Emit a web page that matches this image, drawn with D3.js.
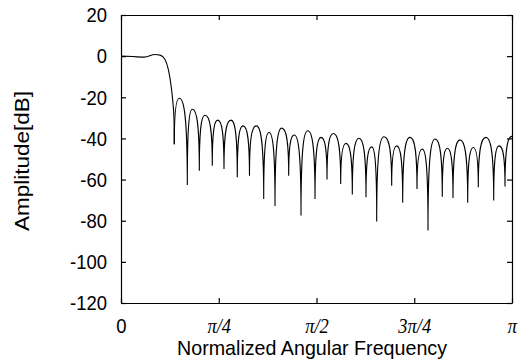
<!DOCTYPE html>
<html lang="en">
<head>
<meta charset="UTF-8">
<title>Amplitude response</title>
<script src="https://d3js.org/d3.v7.min.js"></script>
<style>
  body { margin: 0; background: #fff; }
  svg { display: block; font-family: "Liberation Sans", Arial, Helvetica, sans-serif; }
  .axis path, .axis line { stroke: #000; stroke-width: 1.2; }
  .axis text { font-size: 21px; fill: #000; }
  .curve { fill: none; stroke: #000; stroke-width: 1.1; }
  .title { font-size: 21px; fill: #000; }
</style>
</head>
<body>
<svg width="527" height="360"></svg>
<script>
// frequency in units of pi (0..1), amplitude in dB
const yTicks = [20, 0, -20, -40, -60, -80, -100, -120];
const xTicks = [0, 0.25, 0.5, 0.75, 1];
const xTickLabels = ["0", "π/4", "π/2", "3π/4", "π"];

// passband + transition band, up to the first null
const mainFreq = [0, 0.03, 0.06, 0.087, 0.1, 0.1125, 0.121, 0.127, 0.132, 0.1356];
const mainDb   = [0, -0.2, -0.5, 0.8, 0.5, -1.6, -6.4, -12.9, -21, -30.7];

// stopband nulls
const nullFreq = [0.1363, 0.1696, 0.2003, 0.2335, 0.2634, 0.2974, 0.3286, 0.3650, 0.3939,
                  0.4289, 0.4604, 0.4962, 0.5269, 0.5619, 0.5916, 0.6266, 0.6540, 0.6923,
                  0.7205, 0.7570, 0.7852, 0.8217, 0.8491, 0.8867, 0.9138, 0.9532, 0.9821];
const nullDb   = [-42.8, -62.6, -55.7, -53.3, -54.9, -58.9, -58.1, -69.4, -72.9,
                  -58.1, -77.5, -69.4, -60.0, -62.1, -67.3, -68.6, -80.4, -63.0,
                  -71.3, -64.6, -84.7, -68.3, -68.9, -71.3, -63.7, -70.2, -63.4];

// sidelobe peaks (one after each null)
const peakFreq = [0.1491, 0.1824, 0.2148, 0.2473, 0.2813, 0.3120, 0.3460, 0.3785, 0.4110,
                  0.4432, 0.4775, 0.5115, 0.5430, 0.5754, 0.6087, 0.6412, 0.6726, 0.7051,
                  0.7391, 0.7706, 0.8031, 0.8345, 0.8670, 0.9010, 0.9335, 0.9668, 1.0];
const peakDb   = [-20.5, -25.8, -28.7, -31.1, -31.1, -33.9, -33.9, -37.1, -35.0,
                  -38.3, -36.3, -39.5, -37.6, -42.4, -39.9, -44.1, -39.2, -43.6,
                  -39.5, -45.2, -40.3, -44.8, -40.7, -44.4, -39.5, -43.6, -39.0];

const margin = {top: 15, right: 15, bottom: 57, left: 121},
      width = 527 - margin.left - margin.right,
      height = 360 - margin.top - margin.bottom;

const svg = d3.select("svg")
  .append("g")
  .attr("transform", `translate(${margin.left},${margin.top})`);

const x = d3.scaleLinear().domain([0, 1]).range([0, width]);
const y = d3.scaleLinear().domain([-120, 20]).range([height, 0]);

const sx = 0.88; // the scanned lettering is narrow

// left axis with labels
svg.append("g")
  .attr("class", "axis")
  .call(d3.axisLeft(y).tickValues(yTicks).tickSizeInner(-5).tickSizeOuter(0)
    .tickPadding(14).tickFormat(d => String(d)))
  .selectAll("text")
  .attr("x", -14 / sx)
  .attr("transform", `scale(${sx},1)`);

// right axis, ticks only
svg.append("g")
  .attr("class", "axis")
  .attr("transform", `translate(${width},0)`)
  .call(d3.axisRight(y).tickValues(yTicks).tickSizeInner(-5).tickSizeOuter(0).tickFormat(""));

// bottom axis with labels
svg.append("g")
  .attr("class", "axis")
  .attr("transform", `translate(0,${height})`)
  .call(d3.axisBottom(x).tickValues(xTicks).tickSizeInner(-5).tickSizeOuter(0)
    .tickPadding(15).tickFormat((d, i) => xTickLabels[i]))
  .selectAll("text")
  .attr("transform", `scale(${sx},1)`)
  .style("font-family", (d, i) => i === 0 ? null : "'Liberation Serif', 'Times New Roman', serif")
  .style("font-style", (d, i) => i === 0 ? "normal" : "italic");

// top axis, ticks only
svg.append("g")
  .attr("class", "axis")
  .call(d3.axisTop(x).tickValues(xTicks).tickSizeInner(-5).tickSizeOuter(0).tickFormat(""));

// main lobe
const line = d3.line()
  .x(d => x(d[0]))
  .y(d => y(d[1]))
  .curve(d3.curveMonotoneX);

const mainPts = mainFreq.map((f, i) => [f, mainDb[i]]).concat([[nullFreq[0], nullDb[0]]]);

svg.append("path")
  .attr("class", "curve")
  .attr("d", line(mainPts));

// sidelobes: arch from each null over its peak down to the next null
const p = d3.path();
nullFreq.forEach((f, i) => {
  const x0 = x(f), y0 = y(nullDb[i]);
  const xp = x(peakFreq[i]), yp = y(peakDb[i]);
  p.moveTo(x0, y0);
  p.bezierCurveTo(x0, y0 + 0.75 * (yp - y0), x0 + 0.35 * (xp - x0), yp, xp, yp);
  if (i + 1 < nullFreq.length) {
    const x1 = x(nullFreq[i + 1]), y1 = y(nullDb[i + 1]);
    p.bezierCurveTo(xp + 0.65 * (x1 - xp), yp, x1, y1 + 0.75 * (yp - y1), x1, y1);
  }
});

svg.append("path")
  .attr("class", "curve")
  .attr("d", p.toString());

// axis titles
svg.append("text")
  .attr("class", "title")
  .attr("x", 191)
  .attr("y", 340)
  .attr("text-anchor", "middle")
  .attr("textLength", 270)
  .attr("lengthAdjust", "spacingAndGlyphs")
  .text("Normalized Angular Frequency");

svg.append("text")
  .attr("class", "title")
  .attr("transform", `translate(${29 - margin.left},${161 - margin.top}) rotate(-90)`)
  .attr("text-anchor", "middle")
  .attr("textLength", 140)
  .attr("lengthAdjust", "spacingAndGlyphs")
  .text("Amplitude[dB]");
</script>
</body>
</html>
